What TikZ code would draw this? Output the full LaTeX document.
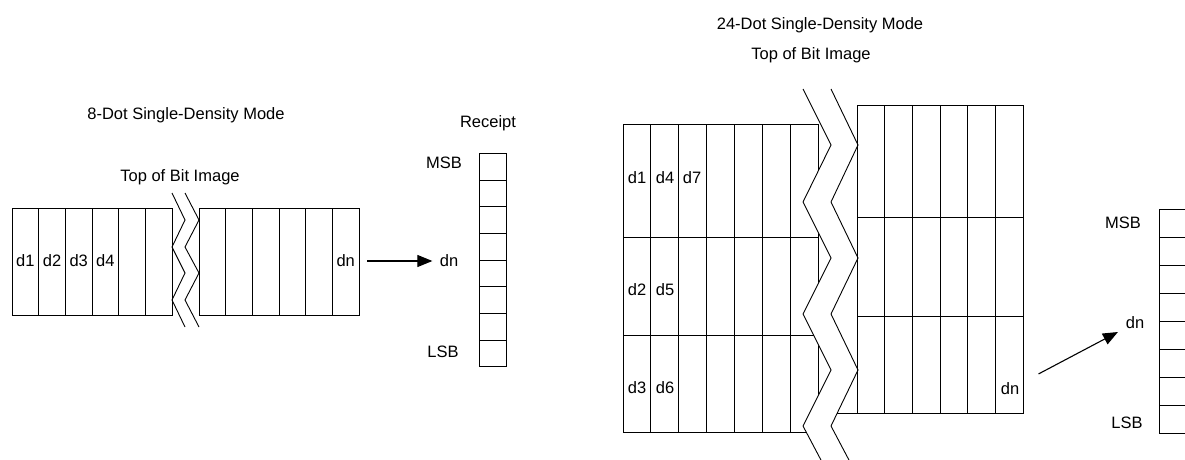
\documentclass[tikz,border=0pt]{standalone}
\usepackage{fontspec}
\setmainfont{Liberation Sans}
\usetikzlibrary{arrows.meta}

\tikzset{
    lbl/.style={inner sep=3pt, font=\fontsize{16.5}{19}\selectfont},
    feed/.style={line width=1.1pt, -{Triangle[length=15pt,width=12pt]}},
}

\begin{document}
\begin{tikzpicture}[x=1pt, y=-1pt, line width=0.9pt]
    \useasboundingbox (0,0) rectangle (1185,460);

    % Define the 8-dot mode: two blocks of six columns
    \node[lbl] (title8) at (186,115) {8-Dot Single-Density Mode};
    \node[lbl] (top8) at (180,177) {Top of Bit Image};
    \foreach \i in {0,...,5} {
        \draw (12+26.67*\i,208) rectangle ++(26.67,107);
        \draw (199+26.67*\i,208) rectangle ++(26.67,107);
    }
    \draw (172,193) -- (185,220) -- (172,247) -- (185,273) -- (172,300) -- (185,327);
    \draw (185,193) -- (199,220) -- (185,247) -- (199,273) -- (185,300) -- (199,327);
    \foreach \i in {1,...,4}
        \node[lbl] (ld\i) at (12+26.67*\i-13.33,261) {d\i};
    \node[lbl] (ldn) at (345.7,261) {dn};

    % Receipt column, eight dots
    \node[lbl] (rcpt8) at (488,123) {Receipt};
    \foreach \i in {0,...,7}
        \draw (479,153.3+26.67*\i) rectangle ++(27,26.67);
    \node[lbl] (msb8) at (444,163) {MSB};
    \node[lbl] (lsb8) at (443,352) {LSB};
    \node[lbl] (rdn8) at (449,261) {dn};
    \draw[feed, shorten <=9pt, shorten >=4pt] (ldn) -- (rdn8);

    % Define the 24-dot mode: three rows of dots per column
    \node[lbl] (title24) at (820,25) {24-Dot Single-Density Mode};
    \node[lbl] (top24) at (811,55) {Top of Bit Image};
    \begin{scope}
        \clip (600,60) -- (803,60) -- (803,89) -- (831,145) -- (803,202) -- (831,258)
              -- (803,314) -- (831,370) -- (803,426) -- (823,466) -- (600,466) -- cycle;
        \foreach \i in {0,...,6}
            \foreach \r/\h in {124/113,237/98,335/97}
                \draw (623+27.86*\i,\r) rectangle ++(27.86,\h);
    \end{scope}
    \foreach \i in {0,...,5}
        \foreach \r/\h in {105/112,217/99,316/97}
            \draw (857+27.67*\i,\r) rectangle ++(27.67,\h);
    \draw (837,413) -- (857,413);
    \draw (803,89) -- (831,145) -- (803,202) -- (831,258)
          -- (803,314) -- (831,370) -- (803,426) -- (822,462);
    \draw (831,89) -- (858,145) -- (831,202) -- (858,258)
          -- (831,314) -- (858,370) -- (831,426) -- (850,462);
    \node[lbl] (d1) at (637,178) {d1};
    \node[lbl] (d4) at (665,178) {d4};
    \node[lbl] (d7) at (692,178) {d7};
    \node[lbl] (d2) at (637,290) {d2};
    \node[lbl] (d5) at (665,290) {d5};
    \node[lbl] (d3) at (637,388) {d3};
    \node[lbl] (d6) at (665,388) {d6};
    \node[lbl] (bdn) at (1010,389) {dn};

    % Receipt column, 24 dots (cut at the edge)
    \foreach \i in {0,...,7}
        \draw (1159,209+28*\i) rectangle ++(40,28);
    \node[lbl] (msb24) at (1123,223) {MSB};
    \node[lbl] (lsb24) at (1127,423) {LSB};
    \node[lbl] (rdn24) at (1135,323) {dn};
    \draw[feed, shorten <=18pt, shorten >=5pt] (bdn) -- (rdn24);
\end{tikzpicture}
\end{document}
